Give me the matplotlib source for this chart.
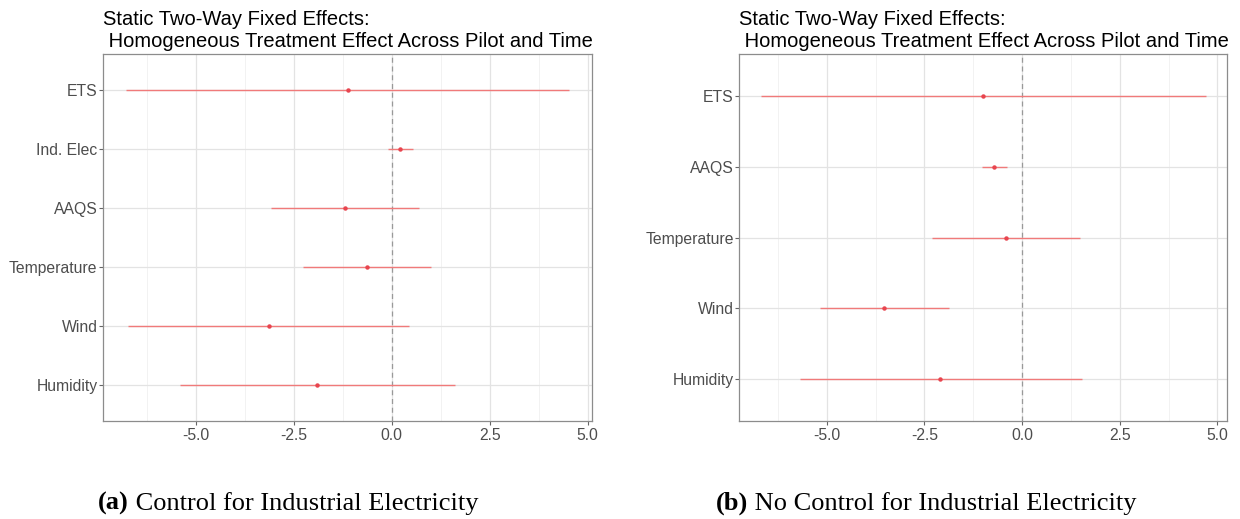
import matplotlib
matplotlib.use("Agg")
import matplotlib.pyplot as plt
from matplotlib.ticker import MultipleLocator

# ---- data ----
labels_a = ["ETS", "Ind. Elec", "AAQS", "Temperature", "Wind", "Humidity"]
est_a = [-1.13, 0.22, -1.19, -0.64, -3.14, -1.91]
lo_a = [-6.78, -0.09, -3.09, -2.26, -6.73, -5.40]
hi_a = [4.53, 0.54, 0.70, 0.99, 0.45, 1.60]

labels_b = ["ETS", "AAQS", "Temperature", "Wind", "Humidity"]
est_b = [-1.00, -0.71, -0.42, -3.53, -2.09]
lo_b = [-6.68, -1.02, -2.31, -5.17, -5.69]
hi_b = [4.70, -0.38, 1.48, -1.88, 1.52]

xticks = [-5.0, -2.5, 0.0, 2.5, 5.0]
title_l1 = "Static Two-Way Fixed Effects:"
title_l2 = " Homogeneous Treatment Effect Across Pilot and Time"
caption_a = ("(a)", " Control for Industrial Electricity")
caption_b = ("(b)", " No Control for Industrial Electricity")

plt.rcParams['font.family'] = ['Liberation Sans', 'DejaVu Sans']

W, H = 1240, 519
fig = plt.figure(figsize=(W / 100, H / 100), dpi=100)

def panel(rect, labels, est, lo, hi, xlim):
    ax = fig.add_axes(rect)
    n = len(labels)
    ys = list(range(n))[::-1]
    ax.set_xlim(*xlim)
    ax.set_ylim(-0.6, n - 1 + 0.6)
    ax.xaxis.set_minor_locator(MultipleLocator(1.25))
    ax.set_xticks(xticks)
    ax.set_xticklabels([f"{t:.1f}" for t in xticks])
    ax.set_yticks(ys)
    ax.set_yticklabels(labels)
    ax.grid(True, which='major', color='#e3e3e3', linewidth=0.9, zorder=0)
    ax.grid(True, which='minor', axis='x', color='#f0f0f0', linewidth=0.6, zorder=0)
    ax.set_axisbelow(True)
    ax.axvline(0, color='#999999', linestyle=(0, (4, 3)), linewidth=0.9, zorder=1)
    ax.hlines(ys, lo, hi, color='#f07a7a', linewidth=1.0, zorder=2)
    ax.plot(est, ys, 'o', color='#e8454f', markersize=2.2, zorder=3)
    for s in ax.spines.values():
        s.set_color('#8c8c8c')
        s.set_linewidth(0.9)
    ax.tick_params(axis='both', which='major', length=3, color='#666666',
                   labelcolor='#4d4d4d', labelsize=11.3, width=0.8)
    ax.tick_params(axis='y', pad=1)
    ax.tick_params(axis='x', pad=2)
    ax.tick_params(which='minor', length=0)
    x0 = rect[0]
    fig.text(x0, 1 - 25 / H, title_l1, ha='left', va='baseline', fontsize=14.5, color='black')
    fig.text(x0, 1 - 47 / H, title_l2, ha='left', va='baseline', fontsize=14.5, color='black')
    return ax

ax1 = panel([0.0831, 0.1888, 0.3944, 0.7071], labels_a, est_a, lo_a, hi_a, (-7.37, 5.11))
ax2 = panel([0.5962, 0.1888, 0.3935, 0.7071], labels_b, est_b, lo_b, hi_b, (-7.24, 5.25))

def caption(x, parts):
    yb = 1 - 510 / H
    t = fig.text(x, yb, parts[0], ha='left', va='baseline', fontsize=19,
                 family='Liberation Serif', weight='bold')
    fig.canvas.draw()
    bb = t.get_window_extent()
    fig.text(bb.x1 / fig.bbox.width, yb, parts[1], ha='left', va='baseline',
             fontsize=19, family='Liberation Serif')

caption(98 / W, caption_a)
caption(716 / W, caption_b)

fig.savefig("out.png", dpi=100)
